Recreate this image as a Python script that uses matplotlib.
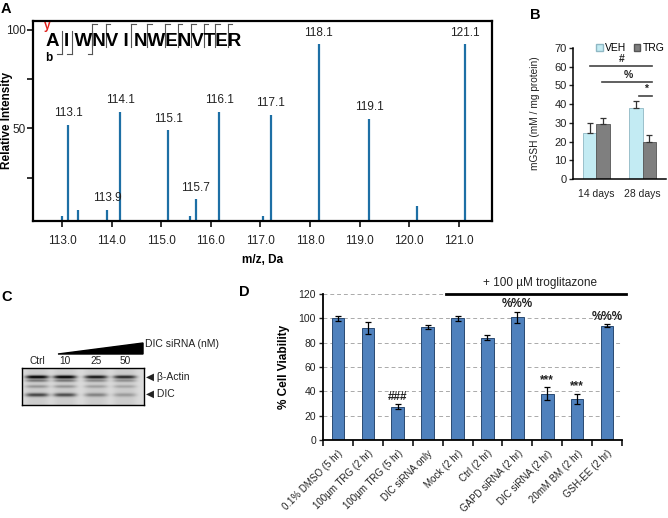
import matplotlib
matplotlib.use('Agg')
import matplotlib.pyplot as plt
import numpy as np
from matplotlib.patches import Polygon, Patch

plt.rcParams['font.family'] = ['Liberation Sans', 'DejaVu Sans']

# ---------------- data ----------------
# Panel A: MS/MS reporter region
mz = [113.00, 113.12, 113.32, 113.91, 114.17, 115.14, 115.58, 115.70,
      116.17, 117.05, 117.21, 118.18, 119.19, 120.16, 121.12]
intensity = [5.5, 51.7, 8.6, 8.6, 58.3, 49.0, 5.5, 14.0,
             58.3, 5.5, 57.0, 92.7, 55.0, 10.6, 92.7]
peak_labels = ['', '113.1', '', '113.9', '114.1', '115.1', '', '115.7',
               '116.1', '', '117.1', '118.1', '119.1', '', '121.1']
mz_ticks = [113.0, 114.0, 115.0, 116.0, 117.0, 118.0, 119.0, 120.0, 121.0]
sequence = "A I WNV I NWENVTER"
b_ion_gaps = [0, 1, 2]
y_ion_gaps = [2, 3, 5, 6, 7, 8, 9, 10, 11, 12]

# Panel B: mGSH
b_groups = ['14 days', '28 days']
veh = [24.5, 37.9]
veh_err = [5.3, 3.6]
trg = [29.5, 19.8]
trg_err = [3.1, 3.6]

# Panel C: western blot band intensities (lanes)
lane_labels = ['Ctrl', '10', '25', '50']
actin_band = [0.85, 0.85, 0.75, 0.68]
actin_lower = [0.35, 0.35, 0.28, 0.25]
mid_band = [0.22, 0.22, 0.18, 0.16]
dic_band = [0.55, 0.52, 0.30, 0.20]

# Panel D: cell viability
categories = ['0.1% DMSO (5 hr)', '100µm TRG (2 hr)', '100µm TRG (5 hr)',
              'DIC siRNA only', 'Mock (2 hr)', 'Ctrl (2 hr)',
              'GAPD siRNA (2 hr)', 'DIC siRNA (2 hr)', '20mM BM (2 hr)',
              'GSH-EE (2 hr)']
viability = [100, 92, 27.5, 93, 100, 84, 101, 38, 34, 94]
viab_err = [2, 5, 2, 1.5, 2, 2, 4.5, 5.5, 4, 1.5]
sig_labels = ['', '', '###', '', '', '', '%%%', '***', '***', '%%%']

# ---------------- figure ----------------
W, H = 668, 518
fig = plt.figure(figsize=(W / 100, H / 100), dpi=100)


def rect(l, t, r, b):
    return [l / W, 1 - b / H, (r - l) / W, (b - t) / H]


def flabel(x, y, s, **kw):
    fig.text(x / W, 1 - y / H, s, **kw)


# ---------------- Panel A ----------------
axA = fig.add_axes(rect(33, 21, 492, 221))
axA.vlines(mz, 0, intensity, color='#1d6fa5', lw=1.6)
for x, yv, lab in zip(mz, intensity, peak_labels):
    if lab:
        axA.annotate(lab, (x, yv), xytext=(0, 4), textcoords='offset points',
                     ha='center', va='bottom', fontsize=8.5, color='#222222')
axA.set_xlim(112.415, 121.67)
axA.set_ylim(3, 104.5)
axA.set_xticks(mz_ticks)
axA.set_xticklabels([f'{t:.1f}' for t in mz_ticks])
axA.set_yticks([25, 50, 75, 100])
axA.set_yticklabels(['', '50', '', '100'])
axA.tick_params(axis='both', direction='out', length=4, width=1.3,
                labelsize=8.5, colors='#222222')
axA.tick_params(axis='x', pad=6)
axA.tick_params(axis='y', pad=1)
for sp in axA.spines.values():
    sp.set_linewidth(1.6)
axA.set_xlabel('m/z, Da', fontsize=8.5, fontweight='bold', labelpad=5)
axA.set_ylabel('Relative Intensity', fontsize=8.5, fontweight='bold')
axA.yaxis.set_label_coords(-0.044, 0.5)

seq_fs = 13.5
seq_text = axA.text(0.028, 0.895, sequence, transform=axA.transAxes,
                    fontsize=seq_fs, fontweight='bold', va='center', ha='left')
axA.text(0.024, 0.975, 'y', transform=axA.transAxes, color='#e0201b',
         fontsize=8.5, fontweight='bold', va='center', ha='left')
axA.text(0.026, 0.815, 'b', transform=axA.transAxes, color='black',
         fontsize=8.5, fontweight='bold', va='center', ha='left')

fig.canvas.draw()
renderer = fig.canvas.get_renderer()
x0_px = seq_text.get_window_extent(renderer).x0


def text_w(s):
    tt = axA.text(0, 0, s, fontsize=seq_fs, fontweight='bold',
                  transform=axA.transAxes)
    w = tt.get_window_extent(renderer).width
    tt.remove()
    return w


res_idx = [i for i, c in enumerate(sequence) if c != ' ']
ends = [text_w(sequence[:i + 1]) for i in res_idx]
starts = [e - text_w(sequence[i]) for e, i in zip(ends, res_idx)]
inv = axA.transAxes.inverted()
gap_x = []
for k in range(len(res_idx) - 1):
    gx = x0_px + (ends[k] + starts[k + 1]) / 2
    gap_x.append(inv.transform((gx, 0))[0])

tick_len = 4.5 / 459
top_y, bot_y, mid_y = 0.985, 0.835, 0.91
for k, gx in enumerate(gap_x):
    if k in y_ion_gaps:
        axA.plot([gx, gx], [mid_y - 0.04, top_y], color='#555555', lw=0.8,
                 transform=axA.transAxes)
        axA.plot([gx, gx + tick_len], [top_y, top_y], color='#555555', lw=0.8,
                 transform=axA.transAxes)
    if k in b_ion_gaps:
        axA.plot([gx, gx], [bot_y, mid_y + 0.04], color='#555555', lw=0.8,
                 transform=axA.transAxes)
        axA.plot([gx - tick_len, gx], [bot_y, bot_y], color='#555555', lw=0.8,
                 transform=axA.transAxes)

# ---------------- Panel B ----------------
axB = fig.add_axes(rect(573, 48, 666, 179))
xb = np.arange(len(b_groups))
bw = 0.29
axB.bar(xb - bw / 2, veh, bw, color='#c3ebf3', edgecolor='#8fb8c4', lw=0.6,
        yerr=[[0] * len(veh), veh_err], capsize=2.5,
        error_kw=dict(ecolor='#333333', elinewidth=0.9, capthick=0.9))
axB.bar(xb + bw / 2, trg, bw, color='#7f7f7f', edgecolor='#555555', lw=0.6,
        yerr=[[0] * len(trg), trg_err], capsize=2.5,
        error_kw=dict(ecolor='#333333', elinewidth=0.9, capthick=0.9))
axB.set_xlim(-0.5, 1.5)
axB.set_ylim(0, 70)
axB.set_yticks(range(0, 71, 10))
axB.set_xticks(xb)
axB.set_xticklabels(b_groups)
axB.tick_params(axis='x', length=0, pad=7, labelsize=7.5, colors='#222222')
axB.tick_params(axis='y', length=3, width=1, pad=1.5, labelsize=8,
                colors='#222222')
for s in ['top', 'right']:
    axB.spines[s].set_visible(False)
for s in ['left', 'bottom']:
    axB.spines[s].set_linewidth(1.1)
axB.set_ylabel('mGSH (mM / mg protein)', fontsize=7.3, color='#222222')
axB.yaxis.set_label_coords(-0.36, 0.5)
sig_lines = [(-0.13, 1.2, 60.5, '#'), (0.13, 1.2, 52, '%'), (0.92, 1.2, 44.5, '*')]
for x1, x2, yv, s in sig_lines:
    axB.plot([x1, x2], [yv, yv], color='#444444', lw=1.2, clip_on=False)
    axB.text((x1 + x2) / 2 + 0.02, yv + 0.8, s, ha='center', va='bottom',
             fontsize=7.5, fontweight='bold', color='#222222')
axB.legend(handles=[Patch(facecolor='#c3ebf3', edgecolor='#8fb8c4', label='VEH'),
                    Patch(facecolor='#7f7f7f', edgecolor='#555555', label='TRG')],
           ncol=2, frameon=False, fontsize=7.5, handlelength=0.6,
           handleheight=0.6, handletextpad=0.25, columnspacing=0.7,
           loc='center right', bbox_to_anchor=(1.03, 1.0), borderaxespad=0)

# ---------------- Panel C ----------------
axC = fig.add_axes(rect(22, 368, 144, 405))
ny, nx = 74, 244
yy = np.linspace(0, 1, ny)[:, None]
xx = np.linspace(0, 1, nx)[None, :]
lane_c = [0.123, 0.352, 0.607, 0.844]
img = np.full((ny, nx), 0.86)
band_rows = [(0.24, 0.045, actin_band), (0.34, 0.035, actin_lower),
             (0.50, 0.04, mid_band), (0.73, 0.05, dic_band)]
for li, c in enumerate(lane_c):
    gx = np.exp(-((xx - c) / 0.095) ** 4)
    img -= 0.06 * gx
    for yc, sy, strengths in band_rows:
        img -= strengths[li] * gx * np.exp(-((yy - yc) / sy) ** 2)
img = np.clip(img, 0, 1)
axC.imshow(img, cmap='gray', vmin=0, vmax=1, aspect='auto',
           extent=[0, 1, 0, 1], interpolation='bilinear')
axC.set_xlim(0, 1)
axC.set_ylim(0, 1)
axC.set_xticks([])
axC.set_yticks([])
for sp in axC.spines.values():
    sp.set_linewidth(1.0)
for c, lab in zip(lane_c, lane_labels):
    axC.text(c, 1.19, lab, transform=axC.transAxes, ha='center', va='center',
             fontsize=7.3, color='#222222')
axC.add_patch(Polygon([(0.295, 1.378), (0.992, 1.676), (0.992, 1.378)],
                      closed=True, transform=axC.transAxes, clip_on=False,
                      facecolor='black', edgecolor='black'))
axC.text(1.01, 1.66, 'DIC siRNA (nM)', transform=axC.transAxes, ha='left',
         va='center', fontsize=7.5, color='#222222')
axC.text(1.02, 0.757, '◀ β-Actin', transform=axC.transAxes, ha='left',
         va='center', fontsize=7.5, color='#222222')
axC.text(1.02, 0.30, '◀ DIC', transform=axC.transAxes, ha='left',
         va='center', fontsize=7.5, color='#222222')

# ---------------- Panel D ----------------
axD = fig.add_axes(rect(323, 294, 622, 440))
xd = np.arange(len(categories))
axD.set_axisbelow(True)
axD.yaxis.grid(True, linestyle=(0, (4, 3)), color='#aaaaaa', lw=0.7)
axD.bar(xd, viability, 0.42, color='#4f81bd', edgecolor='#2a4a72', lw=0.7,
        yerr=viab_err, capsize=2.5,
        error_kw=dict(ecolor='black', elinewidth=0.9, capthick=0.9))
for x, v, e, s in zip(xd, viability, viab_err, sig_labels):
    if s:
        axD.text(x, v + e + 1.0, s, ha='center', va='bottom', fontsize=8.5,
                 fontweight='bold', color='#222222')
axD.set_xlim(-0.5, len(categories) - 0.5)
axD.set_ylim(0, 120)
axD.set_yticks(range(0, 121, 20))
axD.set_xticks(xd)
axD.set_xticklabels(categories, rotation=45, ha='right',
                    rotation_mode='anchor')
axD.set_xticks(np.arange(-0.5, len(categories), 1), minor=True)
axD.tick_params(axis='x', which='major', length=0, pad=6, labelsize=7,
                colors='#222222')
axD.tick_params(axis='x', which='minor', length=4, width=1.1, direction='out')
axD.tick_params(axis='y', length=3, width=1, pad=2, labelsize=7.5,
                colors='#222222')
for s in ['top', 'right']:
    axD.spines[s].set_visible(False)
for s in ['left', 'bottom']:
    axD.spines[s].set_linewidth(1.3)
axD.set_ylabel('% Cell Viability', fontsize=8.5, fontweight='bold', labelpad=6)
axD.plot([3.62, 9.62], [120, 120], color='black', lw=2, clip_on=False)
axD.text(6.75, 124.5, '+ 100 µM troglitazone', ha='center', va='bottom',
         fontsize=8.5, color='#222222')

# ---------------- panel letters ----------------
for x, y, s in [(6, 9, 'A'), (535, 15, 'B'), (7, 297, 'C'), (244, 292, 'D')]:
    flabel(x, y, s, fontsize=10.5, fontweight='bold', ha='center', va='center')

fig.savefig('out.png', dpi=100)
